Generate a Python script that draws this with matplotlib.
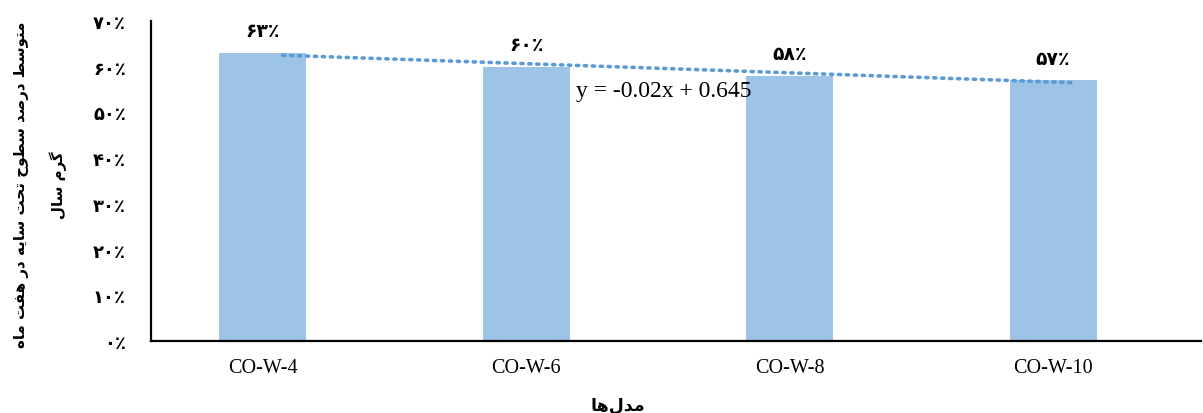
import numpy as np
import matplotlib
matplotlib.use("Agg")
import matplotlib.pyplot as plt

# data
models = ["CO-W-4", "CO-W-6", "CO-W-8", "CO-W-10"]
shade = [0.63, 0.60, 0.58, 0.57]
bar_labels = ["۶۳٪", "۶۰٪", "۵۸٪", "۵۷٪"]
yticks = [0.0, 0.1, 0.2, 0.3, 0.4, 0.5, 0.6, 0.7]
ytick_labels = ["۰٪", "۱۰٪", "۲۰٪", "۳۰٪", "۴۰٪", "۵۰٪", "۶۰٪", "۷۰٪"]
trend_slope = -0.02
trend_icpt = 0.645
trend_text = "y = -0.02x + 0.645"
ylabel_fa = "متوسط درصد سطوح تحت سایه در هفت ماه\nگرم سال"
xlabel_fa = "مدل\u200cها"

# tiny arabic shaper: char -> (isolated, final, initial, medial)
FORMS = {
    "ا": ("\uFE8D", "\uFE8E", None, None),
    "د": ("\uFEA9", "\uFEAA", None, None),
    "ر": ("\uFEAD", "\uFEAE", None, None),
    "و": ("\uFEED", "\uFEEE", None, None),
    "ت": ("\uFE95", "\uFE96", "\uFE97", "\uFE98"),
    "ح": ("\uFEA1", "\uFEA2", "\uFEA3", "\uFEA4"),
    "س": ("\uFEB1", "\uFEB2", "\uFEB3", "\uFEB4"),
    "ص": ("\uFEB9", "\uFEBA", "\uFEBB", "\uFEBC"),
    "ط": ("\uFEC1", "\uFEC2", "\uFEC3", "\uFEC4"),
    "ف": ("\uFED1", "\uFED2", "\uFED3", "\uFED4"),
    "ل": ("\uFEDD", "\uFEDE", "\uFEDF", "\uFEE0"),
    "م": ("\uFEE1", "\uFEE2", "\uFEE3", "\uFEE4"),
    "ه": ("\uFEE9", "\uFEEA", "\uFEEB", "\uFEEC"),
    "ی": ("\uFBFC", "\uFBFD", "\uFBFE", "\uFBFF"),
    "گ": ("\uFB92", "\uFB93", "\uFB94", "\uFB95"),
}


def dual(c):
    return c in FORMS and FORMS[c][2] is not None


def shape_line(s):
    out = []
    i = 0
    while i < len(s):
        c = s[i]
        if c not in FORMS:
            if c != "\u200c":
                out.append(c)
            i += 1
            continue
        prev_j = i > 0 and dual(s[i - 1])
        nxt = s[i + 1] if i + 1 < len(s) else ""
        if c == "ل" and nxt == "ا":
            out.append("\uFEFC" if prev_j else "\uFEFB")
            i += 2
            continue
        next_j = dual(c) and nxt in FORMS
        iso, fin, ini, med = FORMS[c]
        if prev_j and next_j:
            out.append(med)
        elif prev_j:
            out.append(fin)
        elif next_j:
            out.append(ini)
        else:
            out.append(iso)
        i += 1
    return "".join(out)[::-1]


def fa(s):
    return "\n".join(shape_line(line) for line in s.split("\n"))


fa_font = ["DejaVu Sans"]
bar_color = "#9DC3E6"
trend_color = "#5B9BD5"

fig, ax = plt.subplots(figsize=(12.03, 4.14), dpi=100)
fig.subplots_adjust(left=0.1255, right=0.998, bottom=0.174, top=0.947)

x = np.arange(len(models))
ax.bar(x, shade, width=0.33, color=bar_color)

for xi, v, lab in zip(x, shade, bar_labels):
    ax.annotate(lab, (xi, v), xytext=(0, 16), textcoords="offset points",
                ha="center", va="center", fontsize=13.5, fontweight="bold",
                family=fa_font)

# linear trendline, x = 1..n in excel terms
tx = np.arange(1, len(models) + 1)
ty = trend_slope * tx + trend_icpt
ax.plot(x + 0.075, ty, linestyle=(0, (0.6, 1.6)), color=trend_color,
        linewidth=2.6, dash_capstyle="round")
ax.text(1.19, 0.547, trend_text, ha="left", va="center", fontsize=17,
        family="Liberation Serif")

ax.set_xlim(-0.425, 3.56)
ax.set_ylim(0, 0.7)
ax.set_yticks(yticks)
ax.set_yticklabels(ytick_labels, family=fa_font, fontsize=13, fontweight="bold")
ax.set_xticks(x)
ax.set_xticklabels(models, family="Liberation Serif", fontsize=14.5)
ax.tick_params(axis="y", length=0, pad=18)
ax.tick_params(axis="x", length=0, pad=12)

for side in ["top", "right"]:
    ax.spines[side].set_visible(False)
for side in ["left", "bottom"]:
    ax.spines[side].set_linewidth(1.6)
    ax.spines[side].set_color("black")

ax.set_ylabel(fa(ylabel_fa), family=fa_font, fontsize=10.8, fontweight="bold",
              multialignment="center", linespacing=2.5)
ax.yaxis.set_label_coords(-0.08, 0.49)
ax.set_xlabel(fa(xlabel_fa), family=fa_font, fontsize=12.5, fontweight="bold")
ax.xaxis.set_label_coords(0.445, -0.17)

fig.savefig("out.png", dpi=100, facecolor="white")
